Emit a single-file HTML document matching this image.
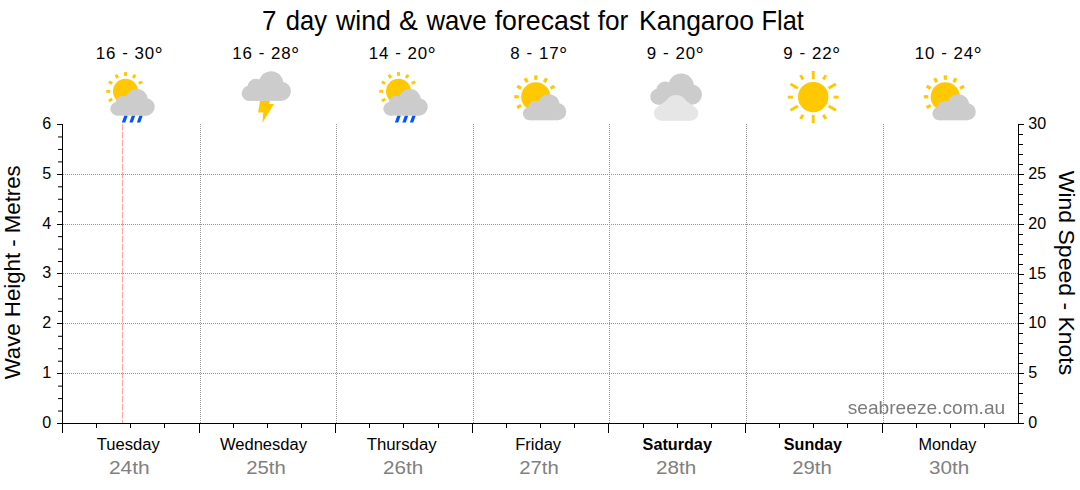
<!DOCTYPE html>
<html><head><meta charset="utf-8"><title>7 day wind &amp; wave forecast</title>
<style>html,body{margin:0;padding:0;background:#fff;}body{width:1080px;height:490px;overflow:hidden;}svg{display:block;}text{font-family:"Liberation Sans",sans-serif;}</style>
</head><body>
<svg width="1080" height="490" viewBox="0 0 1080 490">
<rect width="1080" height="490" fill="#fff"/>
<g stroke="#969696" stroke-width="1" stroke-dasharray="1 1" shape-rendering="crispEdges" fill="none"><line x1="200.5" y1="124" x2="200.5" y2="423"/><line x1="336.5" y1="124" x2="336.5" y2="423"/><line x1="473.5" y1="124" x2="473.5" y2="423"/><line x1="609.5" y1="124" x2="609.5" y2="423"/><line x1="746.5" y1="124" x2="746.5" y2="423"/><line x1="883.5" y1="124" x2="883.5" y2="423"/><line x1="63" y1="373.5" x2="1018" y2="373.5"/><line x1="63" y1="323.5" x2="1018" y2="323.5"/><line x1="63" y1="273.5" x2="1018" y2="273.5"/><line x1="63" y1="224.5" x2="1018" y2="224.5"/><line x1="63" y1="174.5" x2="1018" y2="174.5"/></g>
<line x1="122.5" y1="124" x2="122.5" y2="423" stroke="#ffa6a6" stroke-width="1" stroke-dasharray="6.6 1.4"/>
<g stroke="#000" stroke-width="1" fill="none" shape-rendering="crispEdges"><path d="M62.5 124 V433 M57 423.5 H1024 M1018.5 124 V424"/><path d="M96.5 424 V428"/><path d="M130.5 424 V428"/><path d="M164.5 424 V428"/><path d="M199.5 424 V433"/><path d="M233.5 424 V428"/><path d="M267.5 424 V428"/><path d="M301.5 424 V428"/><path d="M335.5 424 V433"/><path d="M369.5 424 V428"/><path d="M403.5 424 V428"/><path d="M438.5 424 V428"/><path d="M472.5 424 V433"/><path d="M506.5 424 V428"/><path d="M540.5 424 V428"/><path d="M574.5 424 V428"/><path d="M608.5 424 V433"/><path d="M643.5 424 V428"/><path d="M677.5 424 V428"/><path d="M711.5 424 V428"/><path d="M745.5 424 V433"/><path d="M779.5 424 V428"/><path d="M813.5 424 V428"/><path d="M847.5 424 V428"/><path d="M882.5 424 V433"/><path d="M916.5 424 V428"/><path d="M950.5 424 V428"/><path d="M984.5 424 V428"/></g>
<g stroke="#000" stroke-width="1" fill="none"><path d="M58 411.042 H62"/><path d="M58 398.584 H62"/><path d="M58 386.126 H62"/><path d="M57 373.5 H62"/><path d="M58 361.21 H62"/><path d="M58 348.752 H62"/><path d="M58 336.294 H62"/><path d="M57 323.5 H62"/><path d="M58 311.378 H62"/><path d="M58 298.92 H62"/><path d="M58 286.462 H62"/><path d="M57 273.5 H62"/><path d="M58 261.546 H62"/><path d="M58 249.088 H62"/><path d="M58 236.63 H62"/><path d="M57 224.5 H62"/><path d="M58 211.714 H62"/><path d="M58 199.256 H62"/><path d="M58 186.798 H62"/><path d="M57 174.5 H62"/><path d="M58 161.882 H62"/><path d="M58 149.42399999999998 H62"/><path d="M58 136.966 H62"/><path d="M57 124.5 H62"/></g>
<g stroke="#000" stroke-width="1" fill="none" shape-rendering="crispEdges"><path d="M1019 413.5 H1023"/><path d="M1019 403.5 H1023"/><path d="M1019 393.5 H1023"/><path d="M1019 383.5 H1023"/><path d="M1019 373.5 H1024"/><path d="M1019 363.5 H1023"/><path d="M1019 353.5 H1023"/><path d="M1019 343.5 H1023"/><path d="M1019 333.5 H1023"/><path d="M1019 323.5 H1024"/><path d="M1019 313.5 H1023"/><path d="M1019 303.5 H1023"/><path d="M1019 293.5 H1023"/><path d="M1019 283.5 H1023"/><path d="M1019 274.5 H1024"/><path d="M1019 264.5 H1023"/><path d="M1019 254.5 H1023"/><path d="M1019 244.5 H1023"/><path d="M1019 234.5 H1023"/><path d="M1019 224.5 H1024"/><path d="M1019 214.5 H1023"/><path d="M1019 204.5 H1023"/><path d="M1019 194.5 H1023"/><path d="M1019 184.5 H1023"/><path d="M1019 174.5 H1024"/><path d="M1019 164.5 H1023"/><path d="M1019 154.5 H1023"/><path d="M1019 144.5 H1023"/><path d="M1019 134.5 H1023"/><path d="M1019 124.5 H1024"/></g>
<text transform="translate(51.2 428.0) scale(0.97 1)" font-size="16.6" text-anchor="end">0</text>
<text transform="translate(51.2 378.0) scale(0.97 1)" font-size="16.6" text-anchor="end">1</text>
<text transform="translate(51.2 328.0) scale(0.97 1)" font-size="16.6" text-anchor="end">2</text>
<text transform="translate(51.2 278.0) scale(0.97 1)" font-size="16.6" text-anchor="end">3</text>
<text transform="translate(51.2 229.0) scale(0.97 1)" font-size="16.6" text-anchor="end">4</text>
<text transform="translate(51.2 179.0) scale(0.97 1)" font-size="16.6" text-anchor="end">5</text>
<text transform="translate(51.2 129.0) scale(0.97 1)" font-size="16.6" text-anchor="end">6</text>
<text transform="translate(1028.3 428.0) scale(0.97 1)" font-size="16.6" text-anchor="start">0</text>
<text transform="translate(1028.3 378.0) scale(0.97 1)" font-size="16.6" text-anchor="start">5</text>
<text transform="translate(1028.3 328.0) scale(0.97 1)" font-size="16.6" text-anchor="start">10</text>
<text transform="translate(1028.3 279.0) scale(0.97 1)" font-size="16.6" text-anchor="start">15</text>
<text transform="translate(1028.3 229.0) scale(0.97 1)" font-size="16.6" text-anchor="start">20</text>
<text transform="translate(1028.3 179.0) scale(0.97 1)" font-size="16.6" text-anchor="start">25</text>
<text transform="translate(1028.3 129.0) scale(0.97 1)" font-size="16.6" text-anchor="start">30</text>
<text transform="translate(20.3 272.3) rotate(-90)" font-size="22.9" text-anchor="middle" textLength="214" lengthAdjust="spacingAndGlyphs">Wave Height - Metres</text>
<text transform="translate(1058.6 273) rotate(90)" font-size="22.9" text-anchor="middle" textLength="204.5" lengthAdjust="spacingAndGlyphs">Wind Speed - Knots</text>
<text x="262.10" y="29.6" font-size="27.4" textLength="14.42" lengthAdjust="spacingAndGlyphs">7</text>
<text x="285.80" y="29.6" font-size="27.4" textLength="41.20" lengthAdjust="spacingAndGlyphs">day</text>
<text x="335.95" y="29.6" font-size="27.4" textLength="54.95" lengthAdjust="spacingAndGlyphs">wind</text>
<text x="399.10" y="29.6" font-size="27.4" textLength="18.85" lengthAdjust="spacingAndGlyphs">&amp;</text>
<text x="426.52" y="29.6" font-size="27.4" textLength="60.00" lengthAdjust="spacingAndGlyphs">wave</text>
<text x="494.70" y="29.6" font-size="27.4" textLength="95.00" lengthAdjust="spacingAndGlyphs">forecast</text>
<text x="597.70" y="29.6" font-size="27.4" textLength="30.60" lengthAdjust="spacingAndGlyphs">for</text>
<text x="639.01" y="29.6" font-size="27.4" textLength="114.89" lengthAdjust="spacingAndGlyphs">Kangaroo</text>
<text x="761.58" y="29.6" font-size="27.4" textLength="42.23" lengthAdjust="spacingAndGlyphs">Flat</text>
<text x="96.80" y="449.7" font-size="16.65" textLength="63.05" lengthAdjust="spacingAndGlyphs">Tuesday</text>
<text x="219.90" y="449.7" font-size="16.65" textLength="87.20" lengthAdjust="spacingAndGlyphs">Wednesday</text>
<text x="366.70" y="449.7" font-size="16.65" textLength="69.95" lengthAdjust="spacingAndGlyphs">Thursday</text>
<text x="515.16" y="449.7" font-size="16.65" textLength="45.95" lengthAdjust="spacingAndGlyphs">Friday</text>
<text x="642.60" y="449.7" font-size="16.65" font-weight="bold" textLength="69.30" lengthAdjust="spacingAndGlyphs">Saturday</text>
<text x="783.86" y="449.7" font-size="16.65" font-weight="bold" textLength="58.14" lengthAdjust="spacingAndGlyphs">Sunday</text>
<text x="918.60" y="449.7" font-size="16.65" textLength="57.70" lengthAdjust="spacingAndGlyphs">Monday</text>
<text x="108.91" y="473.7" font-size="18.3" fill="#808080" textLength="40.75" lengthAdjust="spacingAndGlyphs">24th</text>
<text x="246.29" y="473.7" font-size="18.3" fill="#808080" textLength="39.47" lengthAdjust="spacingAndGlyphs">25th</text>
<text x="383.10" y="473.7" font-size="18.3" fill="#808080" textLength="40.18" lengthAdjust="spacingAndGlyphs">26th</text>
<text x="519.29" y="473.7" font-size="18.3" fill="#808080" textLength="39.47" lengthAdjust="spacingAndGlyphs">27th</text>
<text x="656.10" y="473.7" font-size="18.3" fill="#808080" textLength="40.18" lengthAdjust="spacingAndGlyphs">28th</text>
<text x="792.29" y="473.7" font-size="18.3" fill="#808080" textLength="39.47" lengthAdjust="spacingAndGlyphs">29th</text>
<text x="929.10" y="473.7" font-size="18.3" fill="#808080" textLength="40.18" lengthAdjust="spacingAndGlyphs">30th</text>
<text x="847.67" y="413.5" font-size="18.6" fill="#7c7c7c" style="will-change:transform" textLength="157.61" lengthAdjust="spacingAndGlyphs">seabreeze.com.au</text>
<text x="95.73 105.91 116.17 122.15 129.07 134.62 144.80" y="58.8 58.8 58.8 57.9 58.8 58.8 58.8" font-size="16.9">16 - 30</text>
<text x="154.50" y="62.10" font-size="20.62">°</text>
<text x="232.23 242.41 252.67 258.65 265.57 271.12 281.30" y="58.8 58.8 58.8 57.9 58.8 58.8 58.8" font-size="16.9">16 - 28</text>
<text x="291.00" y="62.10" font-size="20.62">°</text>
<text x="368.73 378.91 389.17 395.15 402.07 407.62 417.80" y="58.8 58.8 58.8 57.9 58.8 58.8 58.8" font-size="16.9">14 - 20</text>
<text x="427.50" y="62.10" font-size="20.62">°</text>
<text x="510.32 520.58 526.56 533.48 539.03 549.21" y="58.8 58.8 57.9 58.8 58.8 58.8" font-size="16.9">8 - 17</text>
<text x="558.91" y="62.10" font-size="20.62">°</text>
<text x="646.82 657.08 663.06 669.98 675.53 685.71" y="58.8 58.8 57.9 58.8 58.8 58.8" font-size="16.9">9 - 20</text>
<text x="695.41" y="62.10" font-size="20.62">°</text>
<text x="783.32 793.58 799.56 806.48 812.03 822.21" y="58.8 58.8 57.9 58.8 58.8 58.8" font-size="16.9">9 - 22</text>
<text x="831.91" y="62.10" font-size="20.62">°</text>
<text x="914.73 924.91 935.17 941.15 948.07 953.62 963.80" y="58.8 58.8 58.8 57.9 58.8 58.8 58.8" font-size="16.9">10 - 24</text>
<text x="973.50" y="62.10" font-size="20.62">°</text>
<g fill="#FFC800"><circle cx="125.5" cy="91.3" r="12.5"/><rect x="124.05" y="72.10" width="2.9" height="3.80" transform="rotate(0 125.5 91.3)"/><rect x="124.05" y="72.10" width="2.9" height="3.80" transform="rotate(30 125.5 91.3)"/><rect x="124.05" y="72.10" width="2.9" height="3.80" transform="rotate(60 125.5 91.3)"/><rect x="124.05" y="72.10" width="2.9" height="3.80" transform="rotate(240 125.5 91.3)"/><rect x="124.05" y="72.10" width="2.9" height="3.80" transform="rotate(270 125.5 91.3)"/><rect x="124.05" y="72.10" width="2.9" height="3.80" transform="rotate(300 125.5 91.3)"/><rect x="124.05" y="72.10" width="2.9" height="3.80" transform="rotate(330 125.5 91.3)"/></g>
<g fill="#CCCCCC"><circle cx="136.85" cy="99.92" r="11.02"/><circle cx="123.12" cy="103.35" r="7.68"/><circle cx="117.16" cy="108.77" r="6.86"/><circle cx="146.06" cy="106.96" r="8.67"/><rect x="117.16" y="101.99" width="28.90" height="13.64"/></g>
<g fill="#0055FF"><polygon points="124.25,115.70 127.65,115.70 125.25,122.60 121.85,122.60"/><polygon points="131.75,115.70 135.15,115.70 132.75,122.60 129.35,122.60"/><polygon points="139.25,115.70 142.65,115.70 140.25,122.60 136.85,122.60"/></g>
<g fill="#FFC800"><circle cx="398.5" cy="91.3" r="12.5"/><rect x="397.05" y="72.10" width="2.9" height="3.80" transform="rotate(0 398.5 91.3)"/><rect x="397.05" y="72.10" width="2.9" height="3.80" transform="rotate(30 398.5 91.3)"/><rect x="397.05" y="72.10" width="2.9" height="3.80" transform="rotate(60 398.5 91.3)"/><rect x="397.05" y="72.10" width="2.9" height="3.80" transform="rotate(240 398.5 91.3)"/><rect x="397.05" y="72.10" width="2.9" height="3.80" transform="rotate(270 398.5 91.3)"/><rect x="397.05" y="72.10" width="2.9" height="3.80" transform="rotate(300 398.5 91.3)"/><rect x="397.05" y="72.10" width="2.9" height="3.80" transform="rotate(330 398.5 91.3)"/></g>
<g fill="#CCCCCC"><circle cx="409.85" cy="99.92" r="11.02"/><circle cx="396.12" cy="103.35" r="7.68"/><circle cx="390.16" cy="108.77" r="6.86"/><circle cx="419.06" cy="106.96" r="8.67"/><rect x="390.16" y="101.99" width="28.90" height="13.64"/></g>
<g fill="#0055FF"><polygon points="397.25,115.70 400.65,115.70 398.25,122.60 394.85,122.60"/><polygon points="404.75,115.70 408.15,115.70 405.75,122.60 402.35,122.60"/><polygon points="412.25,115.70 415.65,115.70 413.25,122.60 409.85,122.60"/></g>
<polygon fill="#FFC800" points="260.1,100.5 269.9,100.5 269.0,104.0 274.0,104.1 262.5,122.8 263.2,112.5 258.1,112.5"/>
<g fill="#CCCCCC"><circle cx="271.10" cy="83.50" r="12.20"/><circle cx="255.90" cy="87.30" r="8.50"/><circle cx="249.30" cy="93.30" r="7.60"/><circle cx="281.30" cy="91.30" r="9.60"/><rect x="249.30" y="85.80" width="32.00" height="15.10"/></g>
<g fill="#FFC800"><circle cx="535.8" cy="96.8" r="14.6"/><rect x="534.20" y="75.30" width="3.2" height="4.50" transform="rotate(0 535.8 96.8)"/><rect x="534.20" y="75.30" width="3.2" height="4.50" transform="rotate(30 535.8 96.8)"/><rect x="534.20" y="75.30" width="3.2" height="4.50" transform="rotate(60 535.8 96.8)"/><rect x="534.20" y="75.30" width="3.2" height="4.50" transform="rotate(240 535.8 96.8)"/><rect x="534.20" y="75.30" width="3.2" height="4.50" transform="rotate(270 535.8 96.8)"/><rect x="534.20" y="75.30" width="3.2" height="4.50" transform="rotate(300 535.8 96.8)"/><rect x="534.20" y="75.30" width="3.2" height="4.50" transform="rotate(330 535.8 96.8)"/></g>
<g fill="#CCCCCC"><circle cx="548.83" cy="104.96" r="10.76"/><circle cx="535.42" cy="108.31" r="7.50"/><circle cx="529.60" cy="113.60" r="6.70"/><circle cx="557.83" cy="111.84" r="8.47"/><rect x="529.60" y="106.99" width="28.22" height="13.32"/></g>
<g fill="#FFC800"><circle cx="945.3" cy="96.8" r="14.6"/><rect x="943.70" y="75.30" width="3.2" height="4.50" transform="rotate(0 945.3 96.8)"/><rect x="943.70" y="75.30" width="3.2" height="4.50" transform="rotate(30 945.3 96.8)"/><rect x="943.70" y="75.30" width="3.2" height="4.50" transform="rotate(60 945.3 96.8)"/><rect x="943.70" y="75.30" width="3.2" height="4.50" transform="rotate(240 945.3 96.8)"/><rect x="943.70" y="75.30" width="3.2" height="4.50" transform="rotate(270 945.3 96.8)"/><rect x="943.70" y="75.30" width="3.2" height="4.50" transform="rotate(300 945.3 96.8)"/><rect x="943.70" y="75.30" width="3.2" height="4.50" transform="rotate(330 945.3 96.8)"/></g>
<g fill="#CCCCCC"><circle cx="958.33" cy="104.96" r="10.76"/><circle cx="944.92" cy="108.31" r="7.50"/><circle cx="939.10" cy="113.60" r="6.70"/><circle cx="967.33" cy="111.84" r="8.47"/><rect x="939.10" y="106.99" width="28.22" height="13.32"/></g>
<g fill="#CCCCCC"><circle cx="681.17" cy="86.41" r="12.81"/><circle cx="665.21" cy="90.40" r="8.93"/><circle cx="658.28" cy="96.70" r="7.98"/><circle cx="691.88" cy="94.60" r="10.08"/><rect x="658.28" y="88.82" width="33.60" height="15.86"/></g>
<g fill="#E6E6E6"><circle cx="661.25" cy="113.35" r="7.35"/><circle cx="690.95" cy="113.35" r="7.35"/><circle cx="676.1" cy="106.3" r="11.3"/><polygon points="656.90,107.40 667.00,100.06 685.20,100.06 695.30,107.40 690.95,120.70 661.25,120.70"/></g>
<g fill="#FFC800"><circle cx="813.2" cy="97.1" r="15.2"/><rect x="811.75" y="70.90" width="2.9" height="8.40" transform="rotate(0 813.2 97.1)"/><rect x="811.75" y="71.70" width="2.9" height="5.10" transform="rotate(30 813.2 97.1)"/><rect x="811.75" y="70.90" width="2.9" height="8.40" transform="rotate(60 813.2 97.1)"/><rect x="811.75" y="71.70" width="2.9" height="5.10" transform="rotate(90 813.2 97.1)"/><rect x="811.75" y="70.90" width="2.9" height="8.40" transform="rotate(120 813.2 97.1)"/><rect x="811.75" y="71.70" width="2.9" height="5.10" transform="rotate(150 813.2 97.1)"/><rect x="811.75" y="70.90" width="2.9" height="8.40" transform="rotate(180 813.2 97.1)"/><rect x="811.75" y="71.70" width="2.9" height="5.10" transform="rotate(210 813.2 97.1)"/><rect x="811.75" y="70.90" width="2.9" height="8.40" transform="rotate(240 813.2 97.1)"/><rect x="811.75" y="71.70" width="2.9" height="5.10" transform="rotate(270 813.2 97.1)"/><rect x="811.75" y="70.90" width="2.9" height="8.40" transform="rotate(300 813.2 97.1)"/><rect x="811.75" y="71.70" width="2.9" height="5.10" transform="rotate(330 813.2 97.1)"/></g>
</svg></body></html>
